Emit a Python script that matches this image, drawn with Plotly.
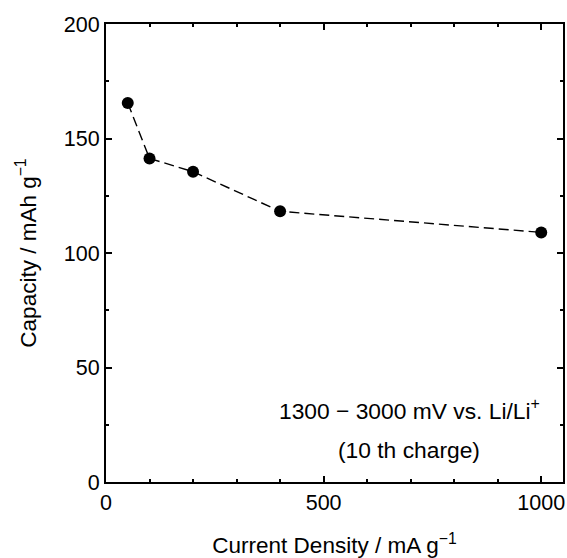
import plotly.graph_objects as go

current_density = [50, 100, 200, 400, 1000]
capacity = [165.5, 141.3, 135.5, 118.2, 109.0]

x_major_ticks = [0, 500, 1000]
x_minor_ticks = [100, 200, 300, 400, 600, 700, 800, 900]
y_major_ticks = [0, 50, 100, 150, 200]
y_minor_ticks = [25, 75, 125, 175]

fig = go.Figure()
fig.add_trace(go.Scatter(
    x=current_density, y=capacity, mode="lines+markers",
    line=dict(color="black", width=1.4, dash="10px,5px"),
    marker=dict(color="black", size=12),
    showlegend=False,
))

font_family = "Liberation Sans, Arial, sans-serif"
common = dict(
    showline=True, linecolor="black", linewidth=2, mirror="allticks",
    ticks="inside", ticklen=6, tickwidth=1.5, tickcolor="black",
    showgrid=False, zeroline=False, automargin=False,
    tickfont=dict(family=font_family, size=21.5, color="black"),
)
fig.update_xaxes(
    range=[0, 1050], tickvals=x_major_ticks,
    minor=dict(tickvals=x_minor_ticks, ticks="inside", ticklen=3, tickcolor="black", tickwidth=1.5),
    title=dict(text="Current Density / mA g<sup>−1</sup>", font=dict(family=font_family, size=22.5, color="black"), standoff=30),
    **common,
)
fig.update_yaxes(
    range=[0, 200], tickvals=y_major_ticks,
    minor=dict(tickvals=y_minor_ticks, ticks="inside", ticklen=3, tickcolor="black", tickwidth=1.5),
    title=dict(text="Capacity / mAh g<sup>−1</sup>", font=dict(family=font_family, size=22.5, color="black"), standoff=21),
    **common,
)
fig.add_annotation(x=0.664, y=0.159, xref="paper", yref="paper", xanchor="center", yanchor="middle",
                   text="1300 − 3000 mV vs. Li/Li<sup>+</sup>", showarrow=False,
                   font=dict(family=font_family, size=22.8, color="black"))
fig.add_annotation(x=0.664, y=0.070, xref="paper", yref="paper", xanchor="center", yanchor="middle",
                   text="(10 th charge)", showarrow=False,
                   font=dict(family=font_family, size=22.8, color="black"))
fig.update_layout(
    width=567, height=558,
    margin=dict(l=106, r=4, t=24, b=76),
    paper_bgcolor="white", plot_bgcolor="white",
)
fig.write_html("out.html", config={"displayModeBar": False},
               post_script="document.body.style.margin='0';document.body.style.overflow='hidden';")
